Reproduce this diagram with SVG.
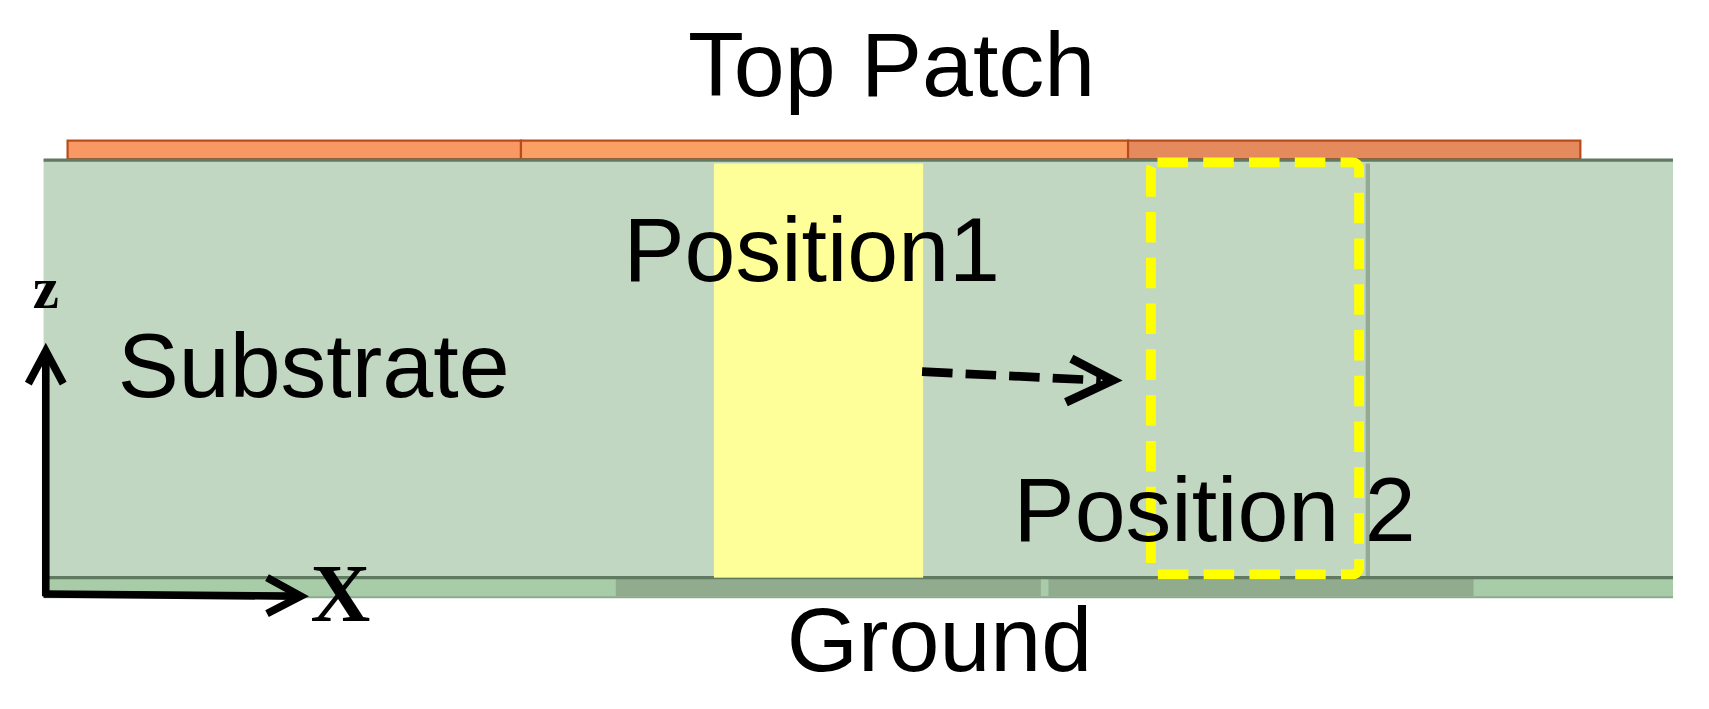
<svg xmlns="http://www.w3.org/2000/svg" width="1709" height="709" viewBox="0 0 1709 709">
<style>
.t{font-family:"Liberation Sans",Arial,sans-serif;font-size:84px;fill:#000}
.s{font-family:"Liberation Serif","Times New Roman",serif;font-weight:bold;fill:#000}
</style>
<rect width="1709" height="709" fill="#fff"/>
<g transform="scale(1.0899)">
<g id="top-patch">
<rect x="62" y="129" width="416" height="17" fill="#f89862" stroke="#b84a1c" stroke-width="2"/>
<rect x="478" y="129" width="557" height="17" fill="#fba065" stroke="#b84a1c" stroke-width="2"/>
<rect x="1035" y="129" width="415" height="17" fill="#e48a5c" stroke="#b84a1c" stroke-width="2"/>
</g>
<g id="substrate">
<rect x="40" y="146" width="1495" height="384" fill="#c1d7c1"/>
<line x1="40" y1="147" x2="1535" y2="147" stroke="#5f7a60" stroke-width="3"/>
<line x1="1255" y1="150" x2="1255" y2="530" stroke="#93ab94" stroke-width="4"/>
</g>
<g id="ground">
<rect x="40" y="530" width="1495" height="18" fill="#a8cca8"/>
<rect x="565" y="531" width="390" height="16" fill="#91ab8f"/>
<rect x="962" y="531" width="390" height="16" fill="#91ab8f"/>
<line x1="40" y1="530" x2="1535" y2="530" stroke="#5f7a60" stroke-width="3"/>
<line x1="40" y1="548" x2="1535" y2="548" stroke="#8fa88f" stroke-width="2"/>
</g>
<g id="position1">
<rect x="655" y="150" width="192" height="380" fill="#ffff99"/>
</g>
<g id="position2">
<rect x="1056" y="149" width="191" height="378" rx="6" fill="none" stroke="#ffff00" stroke-width="9" stroke-dasharray="28,14"/>
</g>
<g id="connectors" stroke="#000" fill="none" stroke-linejoin="miter">
<path d="M846 341 L1010 349" stroke-width="8" stroke-dasharray="28,12"/>
<path d="M983 329 L1021 349 L978 369" stroke-width="8"/>
<path d="M42 547 L42 325" stroke-width="7"/>
<path d="M26 352 L42 322 L58 352" stroke-width="7"/>
<path d="M40 545 L272 547" stroke-width="7"/>
<path d="M245 530 L276 547 L245 563" stroke-width="7"/>
</g>
<g id="labels">
<text class="t" x="818" y="88" text-anchor="middle">Top Patch</text>
<text class="t" x="572" y="258">Position1</text>
<text class="t" x="108" y="364">Substrate</text>
<text class="t" x="930" y="496">Position 2</text>
<text class="t" x="862" y="616" text-anchor="middle">Ground</text>
<text class="s" x="30" y="283" font-size="54">z</text>
<text class="s" x="285" y="570" font-size="76">X</text>
</g>
</g>
</svg>
